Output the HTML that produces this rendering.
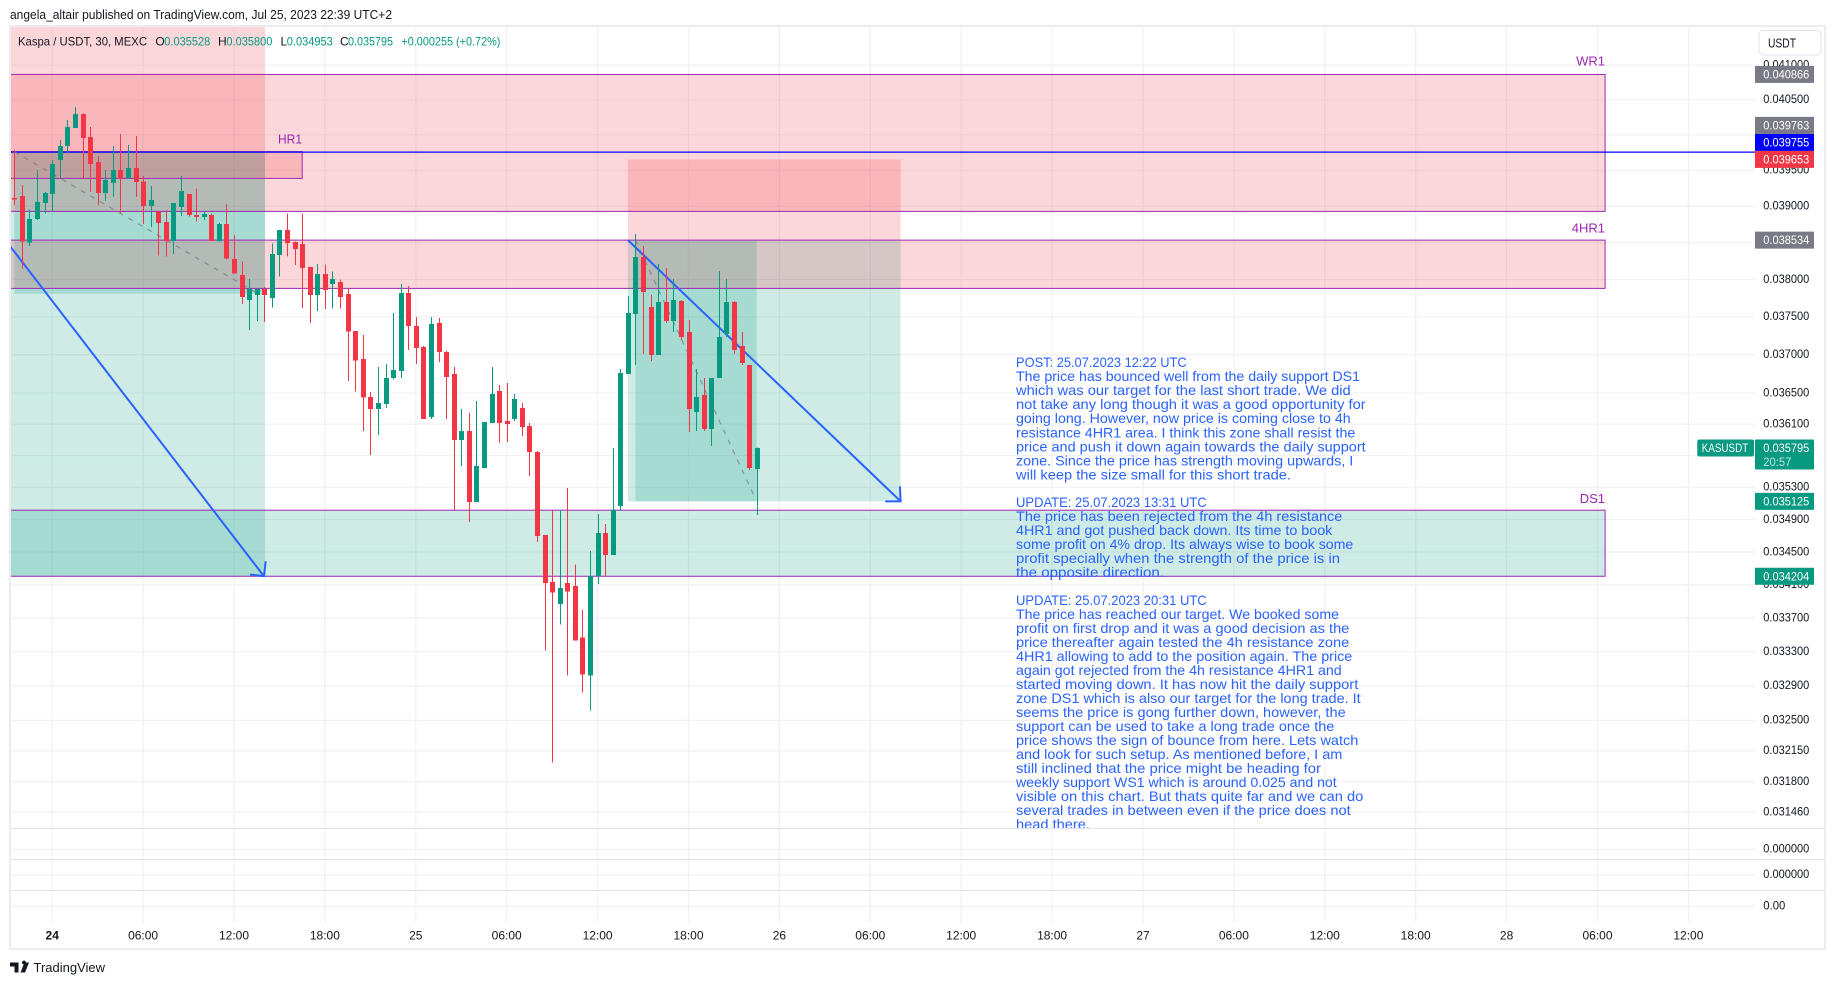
<!DOCTYPE html>
<html lang="en">
<head>
<meta charset="utf-8">
<title>Kaspa / USDT chart</title>
<style>
html,body{margin:0;padding:0;background:#fff;width:1835px;height:985px;overflow:hidden}
svg{display:block;font-family:"Liberation Sans",Arial,sans-serif}
text{dominant-baseline:central}
.note text{font-size:14px;fill:#2962FF}
</style>
</head>
<body>
<svg id="chart" xmlns="http://www.w3.org/2000/svg" width="1835" height="985" viewBox="0 0 1835 985">
  <defs><clipPath id="paneClip"><rect x="10.5" y="27" width="1744.5" height="801"/></clipPath></defs>
  <rect x="0" y="0" width="1835" height="985" fill="#fff"/>
  <text x="10" y="15" font-size="12.5" fill="#131722" textLength="382" lengthAdjust="spacingAndGlyphs">angela_altair published on TradingView.com, Jul 25, 2023 22:39 UTC+2</text>
  <g id="grid"></g>
  <g id="zones" clip-path="url(#paneClip)"></g>
  <g id="lines" clip-path="url(#paneClip)"></g>
  <g id="candles" clip-path="url(#paneClip)" shape-rendering="crispEdges"></g>
  <rect x="10" y="26" width="1815" height="923" fill="none" stroke="#EBEDF3" stroke-width="2"/>
  <line x1="10" x2="1825" y1="828.5" y2="828.5" stroke="#E0E3EB"/>
  <line x1="10" x2="1825" y1="859.5" y2="859.5" stroke="#E0E3EB"/>
  <line x1="10" x2="1825" y1="890.5" y2="890.5" stroke="#E0E3EB"/>
  <g id="priceAxis"></g>
  <g id="timeAxis"></g>

  <g font-size="12" fill="#131722">
    <text x="18" y="41.5" textLength="129" lengthAdjust="spacingAndGlyphs">Kaspa / USDT, 30, MEXC</text>
    <text x="155.4" y="41.5">O</text>
    <text x="164.3" y="41.5" fill="#089981" textLength="46" lengthAdjust="spacingAndGlyphs">0.035528</text>
    <text x="218" y="41.5">H</text>
    <text x="226.4" y="41.5" fill="#089981" textLength="46" lengthAdjust="spacingAndGlyphs">0.035800</text>
    <text x="280.5" y="41.5">L</text>
    <text x="286.8" y="41.5" fill="#089981" textLength="46" lengthAdjust="spacingAndGlyphs">0.034953</text>
    <text x="340" y="41.5">C</text>
    <text x="348" y="41.5" fill="#089981" textLength="45" lengthAdjust="spacingAndGlyphs">0.035795</text>
    <text x="401.4" y="41.5" fill="#089981" textLength="99" lengthAdjust="spacingAndGlyphs">+0.000255 (+0.72%)</text>
  </g>

  <g font-size="13" fill="#9C27B0">
    <text x="1605" y="61" text-anchor="end">WR1</text>
    <text x="278" y="139" textLength="24" lengthAdjust="spacingAndGlyphs">HR1</text>
    <text x="1605" y="228" text-anchor="end">4HR1</text>
    <text x="1605" y="498.5" text-anchor="end">DS1</text>
  </g>

  <g class="note" clip-path="url(#paneClip)">
    <text x="1016" y="362" textLength="170.7" lengthAdjust="spacingAndGlyphs">POST: 25.07.2023 12:22 UTC</text>
    <text x="1016" y="376" textLength="344" lengthAdjust="spacingAndGlyphs">The price has bounced well from the daily support DS1</text>
    <text x="1016" y="390" textLength="334.7" lengthAdjust="spacingAndGlyphs">which was our target for the last short trade. We did</text>
    <text x="1016" y="404" textLength="349.7" lengthAdjust="spacingAndGlyphs">not take any long though it was a good opportunity for</text>
    <text x="1016" y="418" textLength="334.7" lengthAdjust="spacingAndGlyphs">going long. However, now price is coming close to 4h</text>
    <text x="1016" y="432.5" textLength="339.3" lengthAdjust="spacingAndGlyphs">resistance 4HR1 area. I think this zone shall resist the</text>
    <text x="1016" y="446.5" textLength="349.7" lengthAdjust="spacingAndGlyphs">price and push it down again towards the daily support</text>
    <text x="1016" y="460.5" textLength="337.3" lengthAdjust="spacingAndGlyphs">zone. Since the price has strength moving upwards, I</text>
    <text x="1016" y="474.5" textLength="275" lengthAdjust="spacingAndGlyphs">will keep the size small for this short trade.</text>
    <text x="1016" y="502" textLength="190.7" lengthAdjust="spacingAndGlyphs">UPDATE: 25.07.2023 13:31 UTC</text>
    <text x="1016" y="516" textLength="326.3" lengthAdjust="spacingAndGlyphs">The price has been rejected from the 4h resistance</text>
    <text x="1016" y="530" textLength="316.3" lengthAdjust="spacingAndGlyphs">4HR1 and got pushed back down. Its time to book</text>
    <text x="1016" y="544" textLength="337.3" lengthAdjust="spacingAndGlyphs">some profit on 4% drop. Its always wise to book some</text>
    <text x="1016" y="558" textLength="324" lengthAdjust="spacingAndGlyphs">profit specially when the strength of the price is in</text>
    <text x="1016" y="572" textLength="148" lengthAdjust="spacingAndGlyphs">the opposite direction.</text>
    <text x="1016" y="600" textLength="190.7" lengthAdjust="spacingAndGlyphs">UPDATE: 25.07.2023 20:31 UTC</text>
    <text x="1016" y="614" textLength="323" lengthAdjust="spacingAndGlyphs">The price has reached our target. We booked some</text>
    <text x="1016" y="628" textLength="333.3" lengthAdjust="spacingAndGlyphs">profit on first drop and it was a good decision as the</text>
    <text x="1016" y="642" textLength="333.3" lengthAdjust="spacingAndGlyphs">price thereafter again tested the 4h resistance zone</text>
    <text x="1016" y="656" textLength="336.3" lengthAdjust="spacingAndGlyphs">4HR1 allowing to add to the position again. The price</text>
    <text x="1016" y="670" textLength="325.7" lengthAdjust="spacingAndGlyphs">again got rejected from the 4h resistance 4HR1 and</text>
    <text x="1016" y="684" textLength="342.3" lengthAdjust="spacingAndGlyphs">started moving down. It has now hit the daily support</text>
    <text x="1016" y="698" textLength="344.7" lengthAdjust="spacingAndGlyphs">zone DS1 which is also our target for the long trade. It</text>
    <text x="1016" y="712" textLength="329.7" lengthAdjust="spacingAndGlyphs">seems the price is gong further down, however, the</text>
    <text x="1016" y="726" textLength="318.3" lengthAdjust="spacingAndGlyphs">support can be used to take a long trade once the</text>
    <text x="1016" y="740" textLength="342.3" lengthAdjust="spacingAndGlyphs">price shows the sign of bounce from here. Lets watch</text>
    <text x="1016" y="754" textLength="326.3" lengthAdjust="spacingAndGlyphs">and look for such setup. As mentioned before, I am</text>
    <text x="1016" y="768" textLength="305" lengthAdjust="spacingAndGlyphs">still inclined that the price might be heading for</text>
    <text x="1016" y="782" textLength="320.7" lengthAdjust="spacingAndGlyphs">weekly support WS1 which is around 0.025 and not</text>
    <text x="1016" y="796" textLength="347.3" lengthAdjust="spacingAndGlyphs">visible on this chart. But thats quite far and we can do</text>
    <text x="1016" y="810" textLength="334.7" lengthAdjust="spacingAndGlyphs">several trades in between even if the price does not</text>
    <text x="1016" y="824" textLength="74" lengthAdjust="spacingAndGlyphs">head there.</text>
  </g>

  <g>
    <rect x="1759" y="30.5" width="62" height="24.5" rx="4" fill="#fff" stroke="#E0E3EB"/>
    <text x="1768" y="43.5" font-size="12.5" fill="#131722" textLength="28" lengthAdjust="spacingAndGlyphs">USDT</text>
  </g>

  <g>
    <path fill="#131722" d="M10 962.5h8.5v10h-4v-6h-4.5zM22 962.5a2 2 0 1 1 0 .1zM24.5 962.5h4.5l-4 10h-4.5z"/>
    <text x="33.5" y="967.5" font-size="13" fill="#131722" textLength="71.5" lengthAdjust="spacingAndGlyphs">TradingView</text>
  </g>
</svg>

<script>
// ---- chart data ----
const firstBarIndex = -5;
const opens = [0.039113,0.039140,0.038499,0.038823,0.039044,0.039168,0.039643,0.039840,0.040095,0.040294,0.039968,0.039615,0.039182,0.039321,0.039503,0.039391,0.039531,0.039345,0.039002,0.038929,0.038781,0.038521,0.038988,0.039168,0.038878,0.038850,0.038878,0.038521,0.038754,0.038277,0.038060,0.037724,0.037791,0.037875,0.037751,0.038331,0.038671,0.038508,0.038481,0.038168,0.037791,0.038074,0.037938,0.037965,0.037804,0.037312,0.036944,0.036449,0.036295,0.036359,0.036696,0.036787,0.037818,0.037378,0.037101,0.036193,0.037418,0.037035,0.036748,0.035899,0.036013,0.035118,0.035544,0.036115,0.036527,0.036141,0.036167,0.036308,0.036077,0.035746,0.034710,0.034137,0.033872,0.034125,0.034089,0.033468,0.033019,0.034210,0.034735,0.034465,0.035069,0.036748,0.037537,0.038304,0.037630,0.036996,0.037697,0.037444,0.037711,0.037298,0.036256,0.036475,0.036039,0.036696,0.037272,0.037697,0.037114,0.036865,0.035528];
const highs = [0.039783,0.039293,0.038957,0.039503,0.039200,0.039643,0.039925,0.040209,0.040394,0.040304,0.040110,0.039699,0.039503,0.039840,0.040010,0.039854,0.039982,0.039419,0.039279,0.038933,0.038947,0.039044,0.039419,0.039168,0.039247,0.038919,0.038901,0.038772,0.039030,0.038603,0.038245,0.038006,0.037880,0.037902,0.038490,0.038671,0.038901,0.038512,0.038901,0.038168,0.038209,0.038195,0.038105,0.038002,0.037880,0.037312,0.037259,0.036514,0.036839,0.036878,0.037551,0.037938,0.037912,0.037497,0.037114,0.037497,0.037484,0.037048,0.036839,0.036295,0.036244,0.036398,0.036128,0.036839,0.036605,0.036631,0.036488,0.036372,0.036115,0.035759,0.034710,0.035019,0.035019,0.035293,0.034344,0.033800,0.034514,0.034969,0.034846,0.035797,0.036813,0.037778,0.038617,0.038453,0.037791,0.038209,0.038155,0.038006,0.037724,0.037458,0.036813,0.036696,0.036696,0.038114,0.038006,0.037711,0.037298,0.036865,0.035800];
const lows = [0.039016,0.038145,0.038453,0.038809,0.038901,0.038924,0.039387,0.039737,0.040095,0.039387,0.039200,0.039016,0.039071,0.039130,0.038901,0.039387,0.039130,0.038754,0.038717,0.038327,0.038308,0.038345,0.038864,0.038855,0.038786,0.038809,0.038521,0.038508,0.038273,0.038083,0.037670,0.037325,0.037444,0.037431,0.037621,0.038037,0.038308,0.038195,0.037617,0.037418,0.037577,0.037604,0.037613,0.037613,0.036657,0.036519,0.036013,0.035708,0.035962,0.036308,0.036674,0.036696,0.037061,0.036878,0.036167,0.036167,0.036904,0.036167,0.035019,0.035569,0.034871,0.035118,0.035544,0.036115,0.035860,0.035873,0.036141,0.035949,0.035443,0.034625,0.033313,0.032018,0.033621,0.033019,0.033432,0.032821,0.032612,0.034113,0.034210,0.034465,0.035019,0.036748,0.036865,0.037009,0.036917,0.036996,0.037418,0.037298,0.037193,0.036000,0.036013,0.036013,0.035822,0.036696,0.037233,0.037009,0.036865,0.035519,0.034953];
const closes = [0.039095,0.038512,0.038823,0.039058,0.039182,0.039587,0.039840,0.040110,0.040294,0.039954,0.039587,0.039182,0.039363,0.039503,0.039387,0.039531,0.039335,0.039002,0.039085,0.038768,0.038521,0.039044,0.039210,0.038878,0.038850,0.038892,0.038521,0.038754,0.038286,0.038083,0.037764,0.037875,0.037875,0.037791,0.038345,0.038671,0.038494,0.038413,0.038155,0.037791,0.038074,0.037858,0.038006,0.037764,0.037303,0.036921,0.036440,0.036295,0.036372,0.036696,0.036800,0.037818,0.037378,0.037088,0.036167,0.037404,0.037035,0.036709,0.035899,0.036013,0.035118,0.035569,0.036128,0.036488,0.036115,0.036103,0.036423,0.036064,0.035746,0.034698,0.034125,0.034005,0.034065,0.034017,0.033432,0.033031,0.034210,0.034735,0.034465,0.035019,0.036761,0.037551,0.038304,0.037831,0.036996,0.037697,0.037444,0.037724,0.037233,0.036295,0.036449,0.036039,0.036696,0.037233,0.037697,0.037061,0.036891,0.035544,0.035795];
const priceTicks = [0.041,0.0405,0.04,0.0395,0.039,0.0385,0.038,0.0375,0.037,0.0365,0.0361,0.0357,0.0353,0.0349,0.0345,0.0341,0.0337,0.0333,0.0329,0.0325,0.03215,0.0318,0.03146];
const priceTickLabels = ["0.041000","0.040500","0.040000","0.039500","0.039000","0.038500","0.038000","0.037500","0.037000","0.036500","0.036100","0.035700","0.035300","0.034900","0.034500","0.034100","0.033700","0.033300","0.032900","0.032500","0.032150","0.031800","0.031460"];
const timeTickBars = [0,12,24,36,48,60,72,84,96,108,120,132,144,156,168,180,192,204,216];
const timeTickLabels = ["24","06:00","12:00","18:00","25","06:00","12:00","18:00","26","06:00","12:00","18:00","27","06:00","12:00","18:00","28","06:00","12:00"];
const boldTimeLabels = ["24"];
const priceTags = [0.034204,0.035125,0.038534,0.039653,0.039755,0.039763,0.040866];
const priceTagColors = ["#089981","#089981","#787B86","#F23645","#0000FF","#787B86","#787B86"];

// ---- axis functions ----
function priceY(p){ return 65.2 + 2820 * Math.log(0.041 / p); }
function barX(i){ return 52.2 + i * 7.575; }

const NS = 'http://www.w3.org/2000/svg';
function make(tag, attrs, parent, txt){
  const el = document.createElementNS(NS, tag);
  for (const k in attrs) el.setAttribute(k, attrs[k]);
  if (txt !== undefined) el.textContent = txt;
  parent.appendChild(el);
  return el;
}
const gGrid = document.getElementById('grid');
const gZones = document.getElementById('zones');
const gLines = document.getElementById('lines');
const gCandles = document.getElementById('candles');
const gPrice = document.getElementById('priceAxis');
const gTime = document.getElementById('timeAxis');
const GRID = '#F1F1F4';

// grid + time axis
timeTickBars.forEach(function(b, k){
  const x = barX(b);
  const gl = make('line', {x1:x, x2:x, y1:27, y2:922, stroke:GRID, 'stroke-width':1.2}, gGrid);
  
  
  const bold = boldTimeLabels.indexOf(timeTickLabels[k]) >= 0;
  const t = make('text', {x:x, y:935.5, 'text-anchor':'middle', 'font-size':12, fill:'#131722', 'font-weight':bold ? 'bold' : 'normal'}, gTime, timeTickLabels[k]);
  
  
});

// grid + price axis
priceTicks.forEach(function(p, k){
  const y = priceY(p);
  const gl = make('line', {x1:11, x2:1755, y1:y, y2:y, stroke:GRID, 'stroke-width':1.2}, gGrid);
  
  
  const t = make('text', {x:1763.3, y:y - 0.7, 'font-size':12, fill:'#131722', textLength:46, lengthAdjust:'spacingAndGlyphs'}, gPrice, priceTickLabels[k]);
  
  
});

// sub-pane rows
const subPaneRows = [[849.3,'0.000000',46],[875,'0.000000',46],[906.5,'0.00',22]];
subPaneRows.forEach(function(r){
  const gl = make('line', {x1:11, x2:1755, y1:r[0], y2:r[0], stroke:GRID, 'stroke-width':1.2}, gGrid);
  
  
  const t = make('text', {x:1763.3, y:r[0] - 0.8, 'font-size':12, fill:'#131722', textLength:r[2], lengthAdjust:'spacingAndGlyphs'}, gPrice, r[1]);
  
  
});

// drawings, placed in bar/price space
const RED = 'rgba(242,54,69,.2)';
const TEAL = 'rgba(8,153,129,.2)';
function zone(b0, b1, pTop, pBot, fill, stroke){
  const x = barX(b0), y = priceY(pTop);
  const attrs = {x:x, y:y, width:barX(b1) - x, height:priceY(pBot) - y, fill:fill};
  if (stroke) { attrs.stroke = stroke; attrs['stroke-width'] = 1; }
  return make('rect', attrs, gZones);
}
function segment(b0, p0, b1, p1, stroke, width, dash){
  const attrs = {x1:barX(b0), y1:priceY(p0), x2:barX(b1), y2:priceY(p1), stroke:stroke, 'stroke-width':width};
  if (dash) attrs['stroke-dasharray'] = dash;
  return make('line', attrs, gLines);
}
function arrowHead(b, p, a, c){
  const x = barX(b), y = priceY(p);
  return make('polyline', {points:(x+a[0])+','+(y+a[1])+' '+x+','+y+' '+(x+c[0])+','+(y+c[1]), fill:'none', stroke:'#2962FF', 'stroke-width':2}, gLines);
}
let el;
el = zone(-8, 28.1, 0.0425, 0.039763, RED);


el = zone(-8, 28.1, 0.039763, 0.034204, TEAL);


el = zone(-5, 28.1, 0.039763, 0.037808, TEAL);


el = zone(76, 112, 0.039653, 0.038534, RED);


el = zone(76, 112, 0.038534, 0.035125, TEAL);


el = zone(77, 93, 0.038534, 0.035125, TEAL);


el = zone(-8, 205, 0.040866, 0.038929, RED, '#9C27B0');


el = zone(-8, 33, 0.039763, 0.039387, RED, '#9C27B0');


el = zone(-8, 205, 0.038534, 0.03788, RED, '#9C27B0');


el = zone(-8, 205, 0.035015, 0.034204, TEAL, '#9C27B0');



el = segment(-8, 0.039755, 225, 0.039755, '#0000FF', 1.2);


el = segment(-5, 0.039763, 27.2, 0.037808, 'rgba(120,123,134,.75)', 1.2, '5 6');


el = segment(77, 0.038534, 92.8, 0.035165, 'rgba(120,123,134,.75)', 1.2, '5 6');


el = segment(-5.57, 0.038453, 27.96, 0.034204, '#2962FF', 2);


el = arrowHead(27.96, 0.034204, [1.7, -15], [-14, -1.7]);


el = segment(76, 0.038534, 112, 0.035125, '#2962FF', 2);


el = arrowHead(112, 0.035125, [-0.7, -15], [-15.4, 0]);



// candles
opens.forEach(function(o, k){
  const c = closes[k];
  const color = c >= o ? '#089981' : '#F23645';
  const cx = Math.round(barX(firstBarIndex + k));
  const top = priceY(Math.max(o, c));
  const bot = priceY(Math.min(o, c));
  const wick = make('rect', {x:cx, y:priceY(highs[k]), width:1, height:priceY(lows[k]) - priceY(highs[k]), fill:color}, gCandles);
  
  
  const body = make('rect', {x:cx - 2, y:top, width:5, height:Math.max(bot - top, 1), fill:color}, gCandles);
  
  
});

// price tags on axis; tags listed low to high, each pushed up if it would overlap the one below
const TAG_HEIGHT = 17;
let prevTagY = Infinity;
priceTags.forEach(function(p, k){
  const y = Math.min(priceY(p), prevTagY - TAG_HEIGHT);
  prevTagY = y;
  const box = make('rect', {x:1755, y:y - TAG_HEIGHT / 2, width:59, height:TAG_HEIGHT, fill:priceTagColors[k]}, gPrice);
  
  
  const t = make('text', {x:1763.3, y:y, 'font-size':12, fill:'#fff', textLength:46, lengthAdjust:'spacingAndGlyphs'}, gPrice, p.toFixed(6));
  
  
});

// last price tag with countdown and symbol tag
const lastClose = closes[closes.length - 1];
const lastY = priceY(lastClose);
el = make('rect', {x:1755, y:lastY - 8.5, width:59, height:30, rx:1, fill:'#089981'}, gPrice);


el = make('text', {x:1763.3, y:lastY, 'font-size':12, fill:'#fff', textLength:46, lengthAdjust:'spacingAndGlyphs'}, gPrice, lastClose.toFixed(6));


el = make('text', {x:1763.3, y:lastY + 14, 'font-size':12, fill:'rgba(255,255,255,.75)', textLength:28, lengthAdjust:'spacingAndGlyphs'}, gPrice, '20:57');


el = make('rect', {x:1697.3, y:lastY - 8.5, width:56.7, height:17, rx:2, fill:'#089981'}, gPrice);


el = make('text', {x:1701.7, y:lastY, 'font-size':12, fill:'#fff', textLength:46.6, lengthAdjust:'spacingAndGlyphs'}, gPrice, 'KASUSDT');


</script>
</body>
</html>
